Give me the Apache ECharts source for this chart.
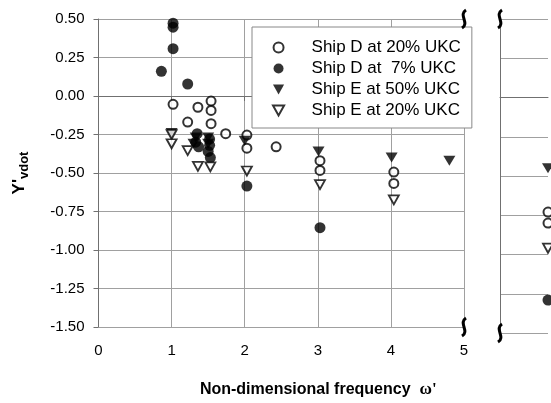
<!DOCTYPE html>
<html>
<head>
<meta charset="utf-8">
<script src="https://cdn.jsdelivr.net/npm/echarts@6/dist/echarts.min.js"></script>
<style>
  html, body { margin: 0; padding: 0; background: #fff; }
  #chart { width: 551px; height: 403px; }
</style>
</head>
<body>
<div id="chart"></div>
<script>
// values; the right panel holds the far-right (off-scale) points
const shipD20 = [
  [1.02, -0.054], [1.36, -0.073], [1.54, -0.033], [1.54, -0.094], [1.22, -0.169],
  [1.54, -0.18], [1.74, -0.245], [2.03, -0.254], [2.03, -0.339], [2.43, -0.33],
  [3.03, -0.42], [3.03, -0.483], [4.04, -0.494], [4.04, -0.568]
];
const shipD7 = [
  [1.02, 0.473], [1.02, 0.447], [1.02, 0.307], [0.86, 0.16], [1.22, 0.078],
  [1.35, -0.245], [1.33, -0.30], [1.37, -0.33], [1.52, -0.28], [1.52, -0.32],
  [1.50, -0.36], [1.53, -0.40], [2.03, -0.585], [3.03, -0.855]
];
const shipE50 = [
  [1.0, -0.24], [1.33, -0.27], [1.30, -0.31], [1.50, -0.27], [1.50, -0.31],
  [2.0, -0.29], [3.01, -0.36], [4.01, -0.40], [4.8, -0.42]
];
const shipE20 = [
  [1.0, -0.25], [1.0, -0.31], [1.22, -0.355], [1.36, -0.457], [1.53, -0.46],
  [2.03, -0.487], [3.03, -0.575], [4.04, -0.674]
];
const shipD20Far = [-0.73, -0.80];
const shipD7Far = [-1.29];
const shipE50Far = [-0.45];
const shipE20Far = [-0.96];

const legendNames = ['Ship D at 20% UKC', 'Ship D at  7% UKC', 'Ship E at 50% UKC', 'Ship E at 20% UKC'];

const FONT = 'Liberation Sans, Arial, sans-serif';
const DOWN = 'path://M0,0L10,0L5,9Z';
const chart = echarts.init(document.getElementById('chart'));

const styles = [
  { symbol: 'circle', symbolSize: 9, itemStyle: { color: '#fff', borderColor: '#000', borderWidth: 2 } },
  { symbol: 'circle', symbolSize: 11, itemStyle: { color: '#000' } },
  { symbol: DOWN, symbolSize: [12, 10], itemStyle: { color: '#000' } },
  { symbol: DOWN, symbolSize: [10, 9], itemStyle: { color: '#fff', borderColor: '#000', borderWidth: 1.8 } }
];
const mainData = [shipD20, shipD7, shipE50, shipE20];
const farData = [shipD20Far, shipD7Far, shipE50Far, shipE20Far];

const series = [];
legendNames.forEach((name, i) => {
  series.push(Object.assign({ name, type: 'scatter', xAxisIndex: 0, yAxisIndex: 0, data: mainData[i] }, styles[i]));
  series.push(Object.assign({ name, type: 'scatter', xAxisIndex: 1, yAxisIndex: 1, data: farData[i].map(v => [1, v]) }, styles[i]));
});

const gridLine = { show: true, lineStyle: { color: '#a0a0a0', width: 1 } };
const axisLine = { show: true, lineStyle: { color: '#707070', width: 1 } };

chart.setOption({
  animation: false,
  textStyle: { fontFamily: FONT },
  grid: [
    { left: 98, top: 19, width: 366, height: 314 },
    { left: 500, top: 19, width: 48, height: 314 }
  ],
  legend: {
    data: legendNames,
    orient: 'vertical',
    left: 252, top: 27,
    backgroundColor: '#fff',
    borderColor: '#888',
    borderWidth: 1,
    borderRadius: 0,
    padding: [12, 11, 9, 20],
    itemGap: 4,
    itemWidth: 14, itemHeight: 10,
    textStyle: { fontSize: 17, color: '#000', fontFamily: FONT, padding: [0, 0, 0, 21] }
  },
  xAxis: [
    {
      gridIndex: 0, type: 'value', min: 0, max: 5, interval: 1,
      axisLine, axisTick: { show: true, length: 5, lineStyle: { color: '#707070' } },
      axisLabel: { fontSize: 15, color: '#000', margin: 16 },
      splitLine: gridLine,
      name: "{a|Non-dimensional frequency  }{w|ω'}",
      nameLocation: 'middle', nameGap: 54,
      nameTextStyle: {
        padding: [0, 0, 0, 74],
        rich: {
          a: { fontSize: 16, fontWeight: 'bold', color: '#000', fontFamily: FONT },
          w: { fontSize: 17, fontWeight: 'bold', color: '#000', fontFamily: 'Liberation Serif, Times New Roman, serif' }
        }
      }
    },
    {
      gridIndex: 1, type: 'value', min: 0, max: 1,
      axisLine, axisTick: { show: false }, axisLabel: { show: false }, splitLine: { show: false }
    }
  ],
  yAxis: [
    {
      gridIndex: 0, type: 'value', min: -1.5, max: 0.5, interval: 0.25,
      axisLine, axisTick: { show: true, length: 5, lineStyle: { color: '#707070' } },
      axisLabel: { fontSize: 15, color: '#000', margin: 14, formatter: v => v.toFixed(2) },
      splitLine: gridLine,
      name: "{a|Y'}{b|vdot}",
      nameLocation: 'middle', nameGap: 68, nameRotate: 90,
      nameTextStyle: {
        rich: {
          a: { fontSize: 17, fontWeight: 'bold', color: '#000', fontFamily: FONT, lineHeight: 22 },
          b: { fontSize: 13, fontWeight: 'bold', color: '#000', fontFamily: FONT, lineHeight: 22, padding: [10, 0, 0, 0] }
        }
      }
    },
    {
      gridIndex: 1, type: 'value', min: -1.5, max: 0.5, interval: 0.25, position: 'right',
      axisLine, axisTick: { show: false }, axisLabel: { show: false }, splitLine: gridLine
    }
  ],
  series
});

// break marks at the ends of the axis gap
function squiggle(p) {
  const [x, y] = p;
  return {
    type: 'bezierCurve', z: 100,
    shape: { x1: x + 2, y1: y - 9, cpx1: x - 6, cpy1: y - 4, cpx2: x + 6, cpy2: y + 4, x2: x - 2, y2: y + 9 },
    style: { stroke: '#000', lineWidth: 3, fill: null }
  };
}
const corners = [
  chart.convertToPixel({ gridIndex: 0 }, [5, 0.5]),
  chart.convertToPixel({ gridIndex: 0 }, [5, -1.5]),
  chart.convertToPixel({ gridIndex: 1 }, [0, 0.5]),
  chart.convertToPixel({ gridIndex: 1 }, [0, -1.5])
];
chart.setOption({ graphic: corners.map(squiggle) });
</script>
</body>
</html>
